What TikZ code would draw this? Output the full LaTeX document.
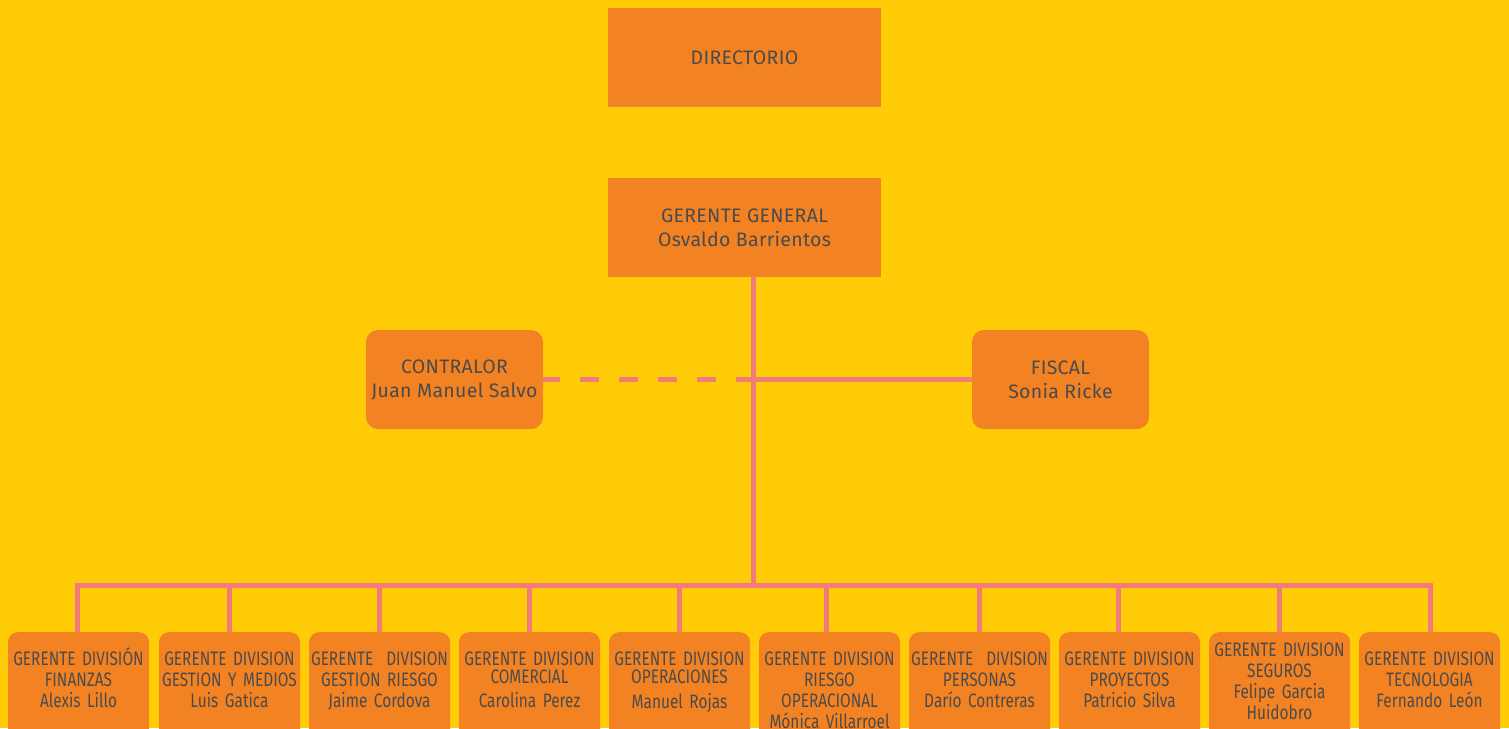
\documentclass[tikz,border=0pt]{standalone}
\usepackage{fontspec}
\setmainfont[LetterSpace=1.5]{Fira Sans}
\newfontfamily\narrowfont[FakeStretch=0.79, WordSpace=0.5]{Fira Sans}
\usepackage{xcolor}
\usepackage{tikz}
\usetikzlibrary{positioning}
\definecolor{bgyellow}{HTML}{FFCC07}
\definecolor{boxorange}{HTML}{F28222}
\definecolor{linkpink}{HTML}{F27B7B}
\definecolor{textgrey}{HTML}{4B4B4D}

\begin{document}
\begin{tikzpicture}[x=1pt, y=-1pt,
  topbox/.style={rectangle, fill=boxorange, text=textgrey, minimum width=273pt, minimum height=99pt, align=center, inner xsep=2pt, font=\fontsize{19.5}{24}\selectfont},
  sidebox/.style={topbox, rounded corners=12pt, minimum width=177pt},
  divbox/.style={rectangle, rounded corners=10pt, fill=boxorange, text=textgrey, anchor=north, text width=151pt, inner xsep=-5pt, inner ysep=21pt, text height=12pt, text depth=85pt, align=center, font=\narrowfont\fontsize{19.5}{21}\selectfont},
  link/.style={draw=linkpink, line width=5pt}]
\fill[bgyellow] (0,0) rectangle (1509,728);
\useasboundingbox (0,0) rectangle (1509,728);

\node (directorio) [topbox] at (744.5,57.5) {DIRECTORIO};
\node (gerente) [topbox] at (744.5,227.5) {GERENTE GENERAL\\Osvaldo Barrientos};
\node (contralor) [sidebox] at (454.5,379.5) {CONTRALOR\\Juan Manuel Salvo};
\node (fiscal) [sidebox] at (1060.5,379.5) {FISCAL\\Sonia Ricke};

\node (finanzas) [divbox] at (78.5,632) {GERENTE DIVISIÓN\\FINANZAS\\Alexis Lillo};
\node (gestion) [divbox] at (229.5,632) {GERENTE DIVISION\\GESTION Y MEDIOS\\Luis Gatica};
\node (gestionriesgo) [divbox] at (379.5,632) {GERENTE\ \ DIVISION\\GESTION RIESGO\\Jaime Cordova};
\node (comercial) [divbox] at (529.5,632) {GERENTE DIVISION\\[-3pt]COMERCIAL\\[3pt]Carolina Perez};
\node (operaciones) [divbox] at (679.5,632) {GERENTE DIVISION\\[-3pt]OPERACIONES\\[4pt]Manuel Rojas};
\node (riesgoop) [divbox] at (829.5,632) {GERENTE DIVISION\\RIESGO\\OPERACIONAL\\Mónica Villarroel};
\node (personas) [divbox] at (979.5,632) {GERENTE\ \ DIVISION\\PERSONAS\\Darío Contreras};
\node (proyectos) [divbox] at (1129.5,632) {GERENTE DIVISION\\PROYECTOS\\Patricio Silva};
\node (seguros) [divbox, text height=3pt] at (1279.5,632) {GERENTE DIVISION\\SEGUROS\\Felipe Garcia\\Huidobro};
\node (tecnologia) [divbox] at (1429.5,632) {GERENTE DIVISION\\TECNOLOGIA\\Fernando León};

% trunk and bus
\coordinate (trunk) at ([xshift=9pt]gerente.south);
\coordinate (busL) at (77,585);
\coordinate (busR) at (1430,585);
\draw[link] (trunk) -- (trunk |- busL);
\draw[link, line cap=rect] (busL) -- (busR);
\draw[link] (fiscal.west) -- (fiscal.west -| trunk);
\draw[link, dash pattern=on 19pt off 20pt, dash phase=2pt] (contralor.east) -- (contralor.east -| trunk);
\foreach \n/\dx in {finanzas/-1.5, gestion/-0.5, gestionriesgo/-0.5, comercial/-0.5, operaciones/-0.5, riesgoop/-3.5, personas/-0.5, proyectos/-11.5, seguros/-0.5, tecnologia/0.5}
  \draw[link] ([xshift=\dx pt]\n.north) -- ([xshift=\dx pt]\n.north |- busL);
\end{tikzpicture}
\end{document}
